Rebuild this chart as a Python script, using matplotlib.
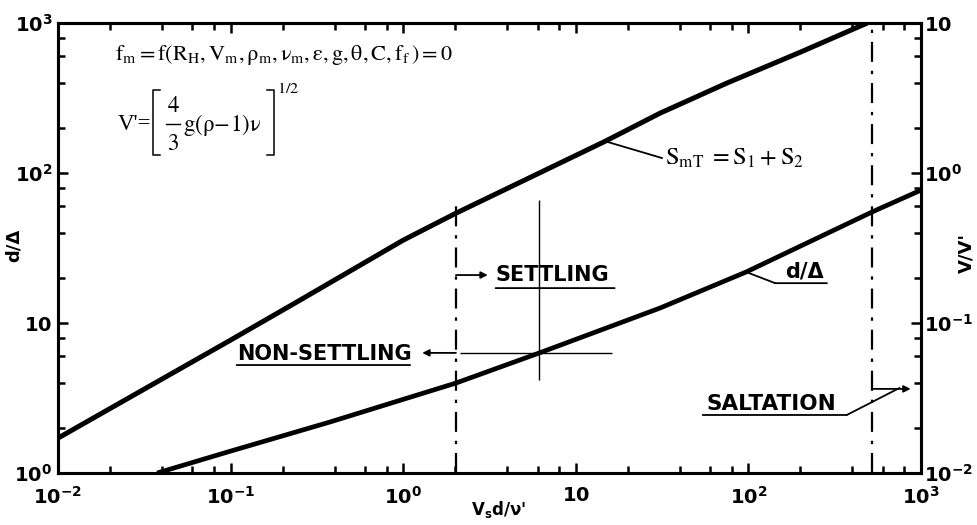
import numpy as np
import matplotlib
matplotlib.use("Agg")
import matplotlib.pyplot as plt
from matplotlib.ticker import LogLocator, NullFormatter

# upper curve (S_mT) and lower curve (d/Delta), x = Vs d / nu
smt_x = [0.01, 0.1, 0.252, 1.0, 2.02, 14.8, 30.8, 75, 200, 487]
smt_y = [1.71, 7.7, 14.2, 35.7, 54, 163, 251, 398, 640, 1000]
dd_x = [0.0375, 0.1, 0.377, 2.02, 6.1, 30.8, 97, 520, 1000]
dd_y = [1.0, 1.40, 2.19, 3.98, 6.3, 12.6, 21.9, 55, 77]

x_ticks = [1e-2, 1e-1, 1e0, 1e1, 1e2, 1e3]
x_labels = [r"$\mathbf{10^{-2}}$", r"$\mathbf{10^{-1}}$", r"$\mathbf{10^{0}}$",
            r"$\mathbf{10}$", r"$\mathbf{10^{2}}$", r"$\mathbf{10^{3}}$"]
yl_ticks = [1, 10, 100, 1000]
yl_labels = [r"$\mathbf{10^{0}}$", r"$\mathbf{10}$", r"$\mathbf{10^{2}}$", r"$\mathbf{10^{3}}$"]
yr_ticks = [1e-2, 1e-1, 1, 10]
yr_labels = [r"$\mathbf{10^{-2}}$", r"$\mathbf{10^{-1}}$", r"$\mathbf{10^{0}}$", r"$\mathbf{10}$"]

x_settle = 2.02      # settling / non-settling boundary
x_salt = 520         # saltation boundary
x_cross = 6.1        # crosshair on the lower curve
x_smt_lbl = 14.8     # leader for S_mT label
x_dd_lbl = 97        # leader for d/Delta label


def on_curve(xs, ys, x):
    return 10 ** np.interp(np.log10(x), np.log10(xs), np.log10(ys))


fig = plt.figure(figsize=(9.77, 5.25), dpi=100)
ax = fig.add_axes([0.0594, 0.099, 0.8833, 0.857])
ax.set_xscale("log")
ax.set_yscale("log")
ax.set_xlim(1e-2, 1e3)
ax.set_ylim(1, 1e3)

ax.plot(smt_x, smt_y, color="black", lw=3.6, solid_capstyle="butt")
ax.plot(dd_x, dd_y, color="black", lw=3.4, solid_capstyle="butt")

dashdot = (0, (9, 4, 1.5, 4))
ax.vlines(x_settle, 1, 66, colors="black", lw=1.6, linestyles=[dashdot])
ax.vlines(x_salt, 1, 1000, colors="black", lw=1.6, linestyles=[dashdot])

# crosshair
y_cross = on_curve(dd_x, dd_y, x_cross)
ax.vlines(x_cross, 4.17, 66, colors="black", lw=1.0)
ax.hlines(y_cross, 2.13, 16.2, colors="black", lw=1.0)

for sp in ax.spines.values():
    sp.set_linewidth(2.2)

ax.set_xticks(x_ticks)
ax.set_xticklabels(x_labels)
ax.set_yticks(yl_ticks)
ax.set_yticklabels(yl_labels)
ax.xaxis.set_minor_locator(LogLocator(base=10, subs=(2, 4, 6, 8)))
ax.yaxis.set_minor_locator(LogLocator(base=10, subs=(2, 4, 6, 8)))
ax.xaxis.set_minor_formatter(NullFormatter())
ax.yaxis.set_minor_formatter(NullFormatter())
ax.tick_params(which="both", direction="in", top=True, width=1.8, labelsize=14)
ax.tick_params(which="major", length=7)
ax.tick_params(which="minor", length=5)
ax.tick_params(axis="x", pad=9)
ax.tick_params(axis="y", pad=4)

ax2 = ax.twinx()
ax2.set_yscale("log")
ax2.set_ylim(1e-2, 10)
ax2.set_yticks(yr_ticks)
ax2.set_yticklabels(yr_labels)
ax2.yaxis.set_minor_locator(LogLocator(base=10, subs=(2, 4, 6, 8)))
ax2.yaxis.set_minor_formatter(NullFormatter())
ax2.tick_params(which="both", direction="in", width=1.8, labelsize=14, pad=2)
ax2.tick_params(which="major", length=7)
ax2.tick_params(which="minor", length=5)
for sp in ax2.spines.values():
    sp.set_linewidth(2.2)

ax.set_ylabel("d/Δ", fontsize=13, fontweight="bold")
ax.yaxis.set_label_coords(-0.041, 0.505)
ax2.set_ylabel("V/V'", fontsize=13, fontweight="bold", rotation=90)
ax2.yaxis.set_label_coords(1.042, 0.49)
ax.set_xlabel("V$_\\mathbf{s}$d/ν'", fontsize=12, fontweight="bold")
ax.xaxis.set_label_coords(0.51, -0.058)

# friction factor relation
ax.text(0.066, 0.929,
        r"$\mathrm{f_m = f(R_H, V_m, \rho_m, \nu_m, \varepsilon, g, \theta, C, f_f\,) = 0}$",
        transform=ax.transAxes, fontsize=16, va="center", ha="left",
        math_fontfamily="stix")

# V' = [4/3 g(rho-1) nu]^(1/2), built piece by piece so the brackets are tall
mt = dict(transform=ax.transAxes, fontsize=16.5, math_fontfamily="stix")
ax.text(0.069, 0.7756, "V'=", transform=ax.transAxes, fontsize=16.5,
        family="Liberation Serif", va="center", ha="left")
ax.text(0.1333, 0.8178, r"$\mathrm{4}$", va="center", ha="center", **mt)
ax.text(0.1333, 0.7333, r"$\mathrm{3}$", va="center", ha="center", **mt)
ax.plot([0.1251, 0.1414], [0.7756, 0.7756], color="black", lw=1.0, transform=ax.transAxes)
ax.text(0.1448, 0.7733, r"$\mathrm{g(\rho\!-\!1)\nu}$", va="center", ha="left", **mt)
ax.plot([0.1182, 0.1101, 0.1101, 0.1182], [0.8511, 0.8511, 0.7067, 0.7067],
        color="black", lw=1.1, transform=ax.transAxes)
ax.plot([0.2422, 0.2503, 0.2503, 0.2422], [0.8511, 0.8511, 0.7067, 0.7067],
        color="black", lw=1.1, transform=ax.transAxes)
ax.text(0.2538, 0.8556, r"$\mathrm{1/2}$", transform=ax.transAxes, fontsize=11.5,
        va="center", ha="left", math_fontfamily="stix")

ax.text(0.703, 0.70, r"$\mathrm{S_{mT}\ = S_1 + S_2}$", transform=ax.transAxes,
        fontsize=17.5, va="center", ha="left", math_fontfamily="stix")

line_kw = dict(arrowstyle="-", lw=1.3, color="black", shrinkA=0, shrinkB=0)
head_kw = dict(arrowstyle="-|>", lw=1.3, color="black", shrinkA=0, shrinkB=0,
               mutation_scale=10)

# S_mT leader
ax.annotate("", xy=(x_smt_lbl, on_curve(smt_x, smt_y, x_smt_lbl)),
            xytext=(0.70, 0.70), textcoords="axes fraction", arrowprops=line_kw)

# d/Delta label with leader and underline
ax.text(0.843, 0.447, "d/Δ", transform=ax.transAxes, fontsize=15,
        fontweight="bold", va="center", ha="left")
ax.annotate("", xy=(x_dd_lbl, on_curve(dd_x, dd_y, x_dd_lbl)),
            xytext=(0.831, 0.422), textcoords="axes fraction", arrowprops=line_kw)
ax.annotate("", xy=(0.891, 0.422), xycoords="axes fraction",
            xytext=(0.831, 0.422), textcoords="axes fraction", arrowprops=line_kw)

# settling
ax.text(0.507, 0.44, "SETTLING", transform=ax.transAxes, fontsize=15,
        fontweight="bold", va="center", ha="left")
ax.annotate("", xy=(0.507, 0.411), xycoords="axes fraction",
            xytext=(0.645, 0.411), textcoords="axes fraction", arrowprops=line_kw)
ax.annotate("", xy=(0.498, 0.44), xycoords=("axes fraction"),
            xytext=(x_settle, 0.44), textcoords=("data", "axes fraction"), arrowprops=head_kw)

# non-settling
ax.text(0.207, 0.264, "NON-SETTLING", transform=ax.transAxes, fontsize=15,
        fontweight="bold", va="center", ha="left")
ax.annotate("", xy=(0.207, 0.24), xycoords="axes fraction",
            xytext=(0.408, 0.24), textcoords="axes fraction", arrowprops=line_kw)
ax.annotate("", xy=(0.422, 0.267), xycoords="axes fraction",
            xytext=(x_settle, 0.267), textcoords=("data", "axes fraction"), arrowprops=head_kw)

# saltation
ax.text(0.752, 0.153, "SALTATION", transform=ax.transAxes, fontsize=15.5,
        fontweight="bold", va="center", ha="left")
ax.annotate("", xy=(0.747, 0.129), xycoords="axes fraction",
            xytext=(0.914, 0.129), textcoords="axes fraction", arrowprops=line_kw)
ax.annotate("", xy=(0.975, 0.189), xycoords="axes fraction",
            xytext=(0.914, 0.129), textcoords="axes fraction", arrowprops=line_kw)
ax.annotate("", xy=(0.988, 0.187), xycoords="axes fraction",
            xytext=(x_salt, 0.187), textcoords=("data", "axes fraction"), arrowprops=head_kw)

fig.savefig("out.png", dpi=100)
